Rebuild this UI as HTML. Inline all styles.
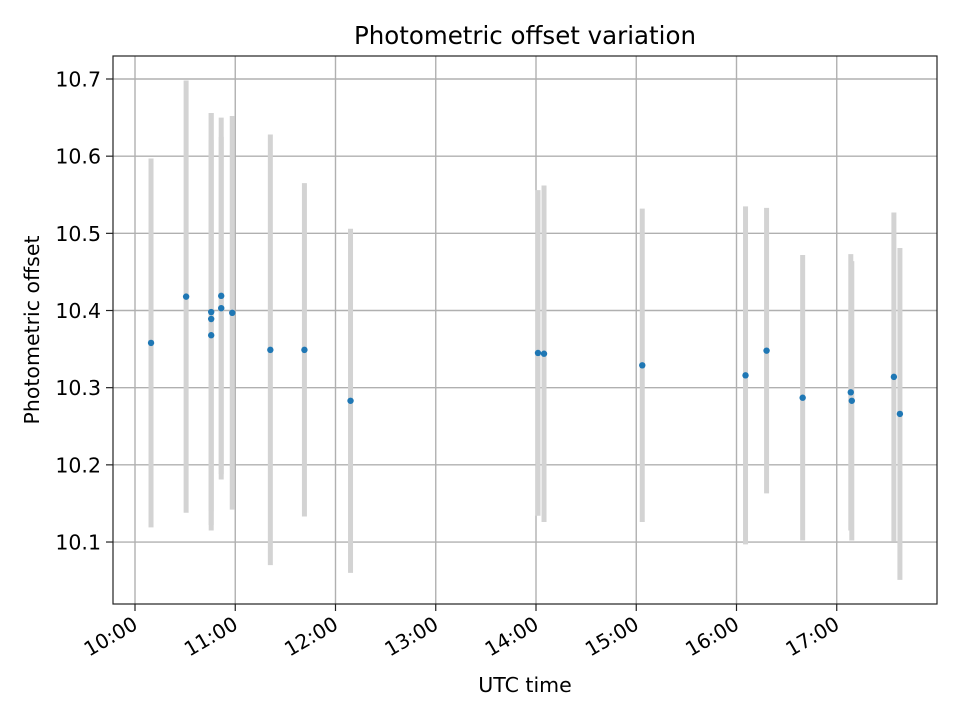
<!DOCTYPE html>
<html><head><meta charset="utf-8"><style>
body{margin:0;background:#fff}
svg text{font-family:"DejaVu Sans","Liberation Sans",sans-serif;fill:#000}
</style></head><body>
<svg id="c" width="960" height="720" viewBox="0 0 960 720"></svg>
<script>
const times=[10.16,10.51,10.76,10.76,10.76,10.86,10.86,10.97,11.35,11.69,12.15,14.02,14.08,15.06,16.09,16.30,16.66,17.14,17.15,17.57,17.63];
const values=[10.358,10.418,10.398,10.389,10.368,10.419,10.403,10.397,10.349,10.349,10.283,10.345,10.344,10.329,10.316,10.348,10.287,10.294,10.283,10.314,10.266];
const errors=[0.239,0.280,0.258,0.267,0.253,0.231,0.222,0.255,0.279,0.216,0.223,0.211,0.218,0.203,0.219,0.185,0.185,0.179,0.181,0.213,0.215];
const yTicks=[10.1,10.2,10.3,10.4,10.5,10.6,10.7];
const xTicks=[10,11,12,13,14,15,16,17];
const xTickLabels=["10:00","11:00","12:00","13:00","14:00","15:00","16:00","17:00"];
const L=113,R=937,T=56,B=604;
const xs=h=>135+(h-10)*100.25;
const ys=v=>79+(10.7-v)*771.7;
const svg=document.getElementById('c');
const NS='http://www.w3.org/2000/svg';
function mk(tag,attrs,parent){const e=document.createElementNS(NS,tag);for(const k in attrs)e.setAttribute(k,attrs[k]);(parent||svg).appendChild(e);return e;}
const grid=mk('g',{});


xTicks.forEach((t,i)=>{const x=xs(t);
 const g=mk('line',{x1:x,x2:x,y1:T,y2:B,stroke:'#b0b0b0','stroke-width':1.4},grid);
 
 const tk=mk('line',{x1:x,x2:x,y1:B,y2:B+7,stroke:'#222','stroke-width':1.2});
 
 const tx=mk('text',{x:x+4,y:B+24,'font-size':20,'text-anchor':'end',transform:`rotate(-30 ${x+4} ${B+24})`});
 tx.textContent=xTickLabels[i];
 
});
yTicks.forEach(t=>{const y=ys(t);
 const g=mk('line',{x1:L,x2:R,y1:y,y2:y,stroke:'#b0b0b0','stroke-width':1.4},grid);
 
 const tk=mk('line',{x1:L-7,x2:L,y1:y,y2:y,stroke:'#222','stroke-width':1.2});
 
 const tx=mk('text',{x:L-12,y:y+7.5,'font-size':20.5,'text-anchor':'end'});
 tx.textContent=t.toFixed(1);
 
});
times.forEach((t,i)=>{const x=xs(t);
 const e=mk('line',{x1:x,x2:x,y1:ys(values[i]+errors[i]),y2:ys(values[i]-errors[i]),stroke:'#d3d3d3','stroke-width':5});
 
});
times.forEach((t,i)=>{
 const p=mk('circle',{cx:xs(t),cy:ys(values[i]),r:3.2,fill:'#1f77b4'});
 
});
const fr=mk('rect',{x:L,y:T,width:R-L,height:B-T,fill:'none',stroke:'#222','stroke-width':1.2});

const ti=mk('text',{x:525,y:44,'font-size':24.5,'text-anchor':'middle'});ti.textContent='Photometric offset variation';

const xl=mk('text',{x:525,y:692,'font-size':20.5,'text-anchor':'middle'});xl.textContent='UTC time';

const yl=mk('text',{x:39,y:330,'font-size':20.5,'text-anchor':'middle',transform:'rotate(-90 39 330)'});yl.textContent='Photometric offset';

</script>
</body></html>
